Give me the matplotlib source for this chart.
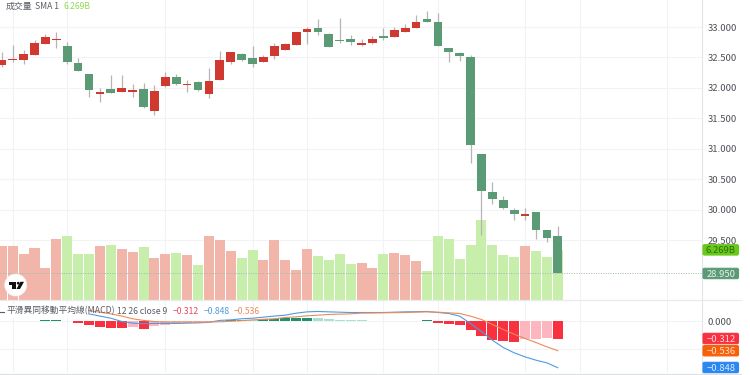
import matplotlib
matplotlib.use("Agg")
from matplotlib import pyplot as plt
from matplotlib.patches import Circle, FancyBboxPatch, Polygon
import numpy as np

plt.rcParams["font.family"] = ["Noto Sans CJK TC", "DejaVu Sans"]

opens = [32.37, 32.45, 32.45, 32.54, 32.72, 32.79, 32.69, 32.41, 32.23, 31.90, 31.98, 31.94, 31.94,
         31.98, 31.62, 32.03, 32.18, 32.04, 32.09, 31.90, 32.13, 32.42, 32.55, 32.49, 32.43, 32.52,
         32.62, 32.71, 32.91, 32.98, 32.89, 32.79, 32.80, 32.71, 32.74, 32.85, 32.84, 32.92, 32.98,
         33.13, 33.09, 32.65, 32.58, 32.50, 30.91, 30.29, 30.16, 30.00, 29.90, 29.96, 29.67, 29.57]
closes = [32.45, 32.47, 32.56, 32.73, 32.83, 32.81, 32.43, 32.28, 31.97, 31.93, 31.92, 31.99, 31.96,
          31.68, 31.95, 32.18, 32.07, 32.07, 31.96, 32.11, 32.46, 32.59, 32.45, 32.40, 32.50, 32.68,
          32.72, 32.91, 32.96, 32.92, 32.67, 32.77, 32.76, 32.74, 32.81, 32.82, 32.95, 32.98, 33.09,
          33.08, 32.69, 32.59, 32.52, 31.06, 30.31, 30.17, 30.02, 29.93, 29.93, 29.66, 29.53, 28.95]
highs = [32.59, 32.70, 32.62, 32.79, 32.89, 32.92, 32.76, 32.49, 32.23, 32.00, 32.21, 32.21, 32.06,
         32.08, 32.04, 32.26, 32.23, 32.13, 32.11, 32.32, 32.61, 32.59, 32.57, 32.68, 32.54, 32.73,
         32.73, 32.92, 33.00, 33.13, 32.90, 33.15, 32.87, 32.80, 32.85, 32.98, 33.00, 33.05, 33.20,
         33.27, 33.23, 32.65, 32.59, 32.54, 30.91, 30.46, 30.22, 30.03, 30.02, 29.96, 29.67, 29.73]
lows = [32.34, 32.43, 32.40, 32.54, 32.72, 32.66, 32.40, 32.27, 31.85, 31.76, 31.91, 31.94, 31.85,
        31.67, 31.55, 32.02, 32.04, 31.94, 31.95, 31.83, 32.13, 32.40, 32.44, 32.35, 32.42, 32.47,
        32.62, 32.70, 32.72, 32.87, 32.67, 32.73, 32.70, 32.68, 32.72, 32.79, 32.83, 32.92, 32.98,
        33.08, 32.68, 32.42, 32.44, 30.77, 29.58, 30.09, 30.01, 29.83, 29.83, 29.51, 29.47, 28.95]
volume = [6.71, 6.71, 5.70, 6.54, 4.04, 7.67, 7.96, 5.79, 5.70, 6.71, 6.83, 6.37, 6.04,
          6.62, 5.20, 5.74, 5.83, 5.58, 4.33, 8.05, 7.55, 6.12, 5.29, 6.29, 5.04, 7.46,
          5.04, 3.70, 6.42, 5.45, 4.95, 5.79, 4.45, 4.61, 3.99, 5.74, 5.83, 5.58, 4.92,
          3.57, 8.00, 7.59, 5.17, 6.83, 10.06, 6.83, 5.58, 5.33, 6.75, 6.17, 5.42, 6.269]
hist = [0.0, 0.006, 0.012, 0.016, 0.02, 0.02, 0.0, -0.03, -0.07, -0.10, -0.117, -0.118, -0.10,
        -0.13, -0.09, -0.07, -0.05, -0.03, -0.02, -0.01, 0.01, 0.03, 0.03, 0.02, 0.05, 0.055,
        0.06, 0.062, 0.065, 0.06, 0.04, 0.03, 0.025, 0.02, 0.012, 0.006, 0.008, 0.012, 0.015,
        0.02, -0.025, -0.043, -0.067, -0.165, -0.27, -0.336, -0.36, -0.373, -0.33, -0.32, -0.30, -0.312]
macd = [0.30, 0.30, 0.30, 0.29, 0.28, 0.27, 0.22, 0.18, 0.14, 0.10, 0.06, 0.0, -0.03,
        -0.04, -0.035, -0.035, -0.035, -0.03, -0.025, -0.015, 0.02, 0.03, 0.05, 0.06, 0.08, 0.10,
        0.116, 0.153, 0.177, 0.184, 0.177, 0.171, 0.165, 0.165, 0.165, 0.165, 0.171, 0.177, 0.18,
        0.184, 0.165, 0.147, 0.098, -0.037, -0.184, -0.343, -0.477, -0.575, -0.649, -0.71, -0.759, -0.848]
signal = [0.30, 0.30, 0.30, 0.30, 0.29, 0.28, 0.27, 0.25, 0.20, 0.17, 0.14, 0.10, 0.05,
          0.02, 0.0, -0.01, -0.01, -0.01, -0.01, -0.01, -0.005, 0.005, 0.015, 0.03, 0.04, 0.05,
          0.073, 0.086, 0.104, 0.116, 0.129, 0.135, 0.141, 0.153, 0.156, 0.159, 0.162, 0.165, 0.171,
          0.177, 0.171, 0.159, 0.147, 0.098, 0.037, -0.055, -0.147, -0.233, -0.312, -0.386, -0.465, -0.536]

price_ticks = [29.5, 30.0, 30.5, 31.0, 31.5, 32.0, 32.5, 33.0]
grid_bars = [1, 6, 15, 23, 28, 35, 40, 48, 53, 61]

UP = "#d0392f"
DOWN = "#5a9a75"
GRID = "#f2f3f5"
TEXT = "#5a5d66"
TICK_SIZE = 6.8

fig = plt.figure(figsize=(7.5, 3.75), dpi=100)
W, H = 750.0, 375.0
pane_right = 701.7
price_bottom = 300.0
macd_bottom = 373.0

ax = fig.add_axes([0, 1 - price_bottom / H, pane_right / W, price_bottom / H])
bg = fig.add_axes(ax.get_position(), sharex=ax, sharey=ax)
vol = fig.add_axes(ax.get_position(), sharex=ax)
mac = fig.add_axes([0, 1 - macd_bottom / H, pane_right / W, (macd_bottom - price_bottom) / H], sharex=ax)
ov = fig.add_axes([0, 0, 1, 1])
ov.set_xlim(0, W)
ov.set_ylim(H, 0)
ov.axis("off")

x = np.arange(len(opens))
ax.set_xlim(-0.165, 64.2)
ax.set_ylim(28.514, 33.444)
vol.set_ylim(0, 37.5)
mac.set_ylim(-0.945, 0.3945)

# grid sits under the volume bars, candles on top
bg.set_zorder(0)
vol.set_zorder(1)
ax.set_zorder(2)
ax.patch.set_visible(False)
mac.set_zorder(1)
ov.set_zorder(3)

ax.set_xticks(grid_bars)
ax.set_yticks(price_ticks)
bg.grid(True, color=GRID, linewidth=0.8)
bg.tick_params(left=False, bottom=False, right=False, labelleft=False, labelbottom=False, labelright=False)
for s in bg.spines.values():
    s.set_visible(False)

is_up = np.array(closes) >= np.array(opens)
vol.bar(x, volume, width=0.92, color=["#f2b5aa" if u else "#c8eeab" for u in is_up], linewidth=0)
vol.axis("off")

ax.vlines(x, lows, highs, color="#b5b5b5", linewidth=0.9, zorder=3)
body_bottom = np.minimum(opens, closes)
body_height = np.maximum(np.abs(np.array(closes) - np.array(opens)), 0.02)
ax.bar(x, body_height, bottom=body_bottom, width=0.8, color=[UP if u else DOWN for u in is_up],
       linewidth=0, zorder=4)
ax.axhline(closes[-1], color="#9fb9aa", linewidth=0.7, linestyle=(0, (1, 1.5)), zorder=2)

ax.set_yticklabels([f"{t:.3f}" for t in price_ticks], color="#4c4f57", fontsize=TICK_SIZE)
ax.yaxis.tick_right()
ax.tick_params(axis="y", length=0, pad=4.5)
ax.tick_params(axis="x", bottom=False, labelbottom=False)
for s in ["top", "left", "bottom"]:
    ax.spines[s].set_visible(False)
ax.spines["right"].set_color("#e4e5e8")
ax.spines["right"].set_linewidth(0.8)

# histogram: pale when the bar shrinks toward zero
hist_colors = []
for i, h in enumerate(hist):
    prev = hist[i - 1] if i else 0
    if h >= 0:
        hist_colors.append("#1f8f72" if h >= prev else "#a8e0d2")
    else:
        hist_colors.append("#f9303f" if h <= prev else "#fbb6c0")
mac.bar(x, hist, width=0.92, color=hist_colors, linewidth=0, zorder=2)
mac.plot(x, macd, color="#4f9be0", linewidth=0.8, zorder=3)
mac.plot(x, signal, color="#ee8a5a", linewidth=0.8, zorder=3)
mac.set_yticks([-0.5, 0.0])
mac.set_yticklabels(["", "0.000"], color="#4c4f57", fontsize=TICK_SIZE)
mac.yaxis.tick_right()
mac.tick_params(axis="y", length=0, pad=4.5)
mac.tick_params(axis="x", bottom=False, labelbottom=False)
mac.grid(True, color=GRID, linewidth=0.8, zorder=0)
for s in ["top", "left"]:
    mac.spines[s].set_visible(False)
mac.spines["right"].set_color("#e4e5e8")
mac.spines["right"].set_linewidth(0.8)
mac.spines["bottom"].set_visible(False)

ov.plot([0, 741], [300, 300], color="#e9eaed", linewidth=0.9)
ov.plot([0, 741], [373.5, 373.5], color="#dfe0e3", linewidth=0.9)


def pill(axis, value, label, color, text_color="#e9f2ec"):
    py = H - axis.transData.transform((0, value))[1]
    py = min(py, 367.5)
    ov.add_patch(FancyBboxPatch((703, py - 5.2), 35.5, 10.4, boxstyle="round,pad=0,rounding_size=1.5",
                                facecolor=color, edgecolor=color, linewidth=0.8))
    ov.text(720.8, py, label, color=text_color, fontsize=TICK_SIZE, ha="center", va="center_baseline")


fig.canvas.draw()
pill(vol, volume[-1], "6.269B", "#68c91a", "#2f6b12")
pill(ax, closes[-1], "28.950", DOWN)
pill(mac, hist[-1], "\u22120.312", "#f9303f", "#ffd9dc")
pill(mac, signal[-1], "\u22120.536", "#f7600a", "#ffe0cc")
pill(mac, macd[-1], "\u22120.848", "#2a86f0", "#dcebff")

# TradingView badge
ov.add_patch(Circle((15.7, 285), 11, facecolor="white", edgecolor="#f2f2f2", linewidth=0.5))
ov.add_patch(Polygon([(8.5, 281.8), (16, 281.8), (16, 289), (12.2, 289), (12.2, 284.6), (8.5, 284.6)],
                     facecolor="#111111", linewidth=0))
ov.add_patch(Circle((18.2, 283.2), 1.4, facecolor="#111111", linewidth=0))
ov.add_patch(Polygon([(20.3, 281.8), (24, 281.8), (20, 289), (16.5, 289)], facecolor="#111111", linewidth=0))

# legends
ov.text(6, 6.5, "成交量", color=TEXT, fontsize=6.4, va="center")
ov.text(35, 6.5, "SMA 1", color=TEXT, fontsize=6.2, va="center")
ov.text(63, 6.5, "6.269B", color="#93d857", fontsize=6.2, va="center")

ov.fill_between([0, 88], 303.5, 317.5, color="white", linewidth=0, zorder=1.5)
ov.plot([0, 3.5], [311.5, 311.5], color=TEXT, linewidth=0.8)
ov.text(6.7, 311, "平滑異同移動平均線(MACD)", color=TEXT, fontsize=6.3, va="center")
ov.text(117, 311, "12 26 close 9", color=TEXT, fontsize=6.2, va="center")
ov.text(173, 311, "\u22120.312", color="#e2495a", fontsize=6.2, va="center")
ov.text(204, 311, "\u22120.848", color="#4f9be0", fontsize=6.2, va="center")
ov.text(234, 311, "\u22120.536", color="#ee8a5a", fontsize=6.2, va="center")

fig.savefig("out.png", dpi=100)
